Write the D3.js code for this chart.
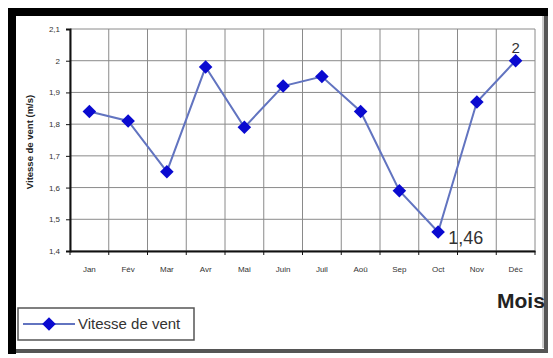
<!DOCTYPE html>
<html>
<head>
<meta charset="utf-8">
<script src="https://cdn.jsdelivr.net/npm/d3@7"></script>
<style>
  html, body { margin: 0; padding: 0; background: #fff; }
  svg { display: block; font-family: "Liberation Sans", Arial, sans-serif; }
</style>
</head>
<body>
<svg id="chart" width="553" height="358"></svg>
<script>
// Monthly mean wind speed (m/s)
const months = ["Jan", "Fév", "Mar", "Avr", "Mai", "Juin", "Juil", "Aoû", "Sep", "Oct", "Nov", "Déc"];
const windSpeed = [1.84, 1.81, 1.65, 1.98, 1.79, 1.92, 1.95, 1.84, 1.59, 1.46, 1.87, 2.0];
const yTicks = [1.4, 1.5, 1.6, 1.7, 1.8, 1.9, 2.0, 2.1];
const seriesName = "Vitesse de vent";
const yTitle = "Vitesse de vent (m/s)";
const xTitle = "Mois";
// Values that carry a printed label
const labelled = [{ month: "Oct", text: "1,46" }, { month: "Déc", text: "2" }];

const svg = d3.select("#chart");
const W = 553, H = 358;
const plot = { left: 70, right: 535, top: 29, bottom: 251 };

const fmt = v => d3.format(".1f")(v).replace(/\.0$/, "").replace(".", ",");

// Outer frame: heavy black top/left, lighter grey right/bottom
svg.append("rect").attr("x", 0).attr("y", 0).attr("width", W).attr("height", H).attr("fill", "#fff");
svg.append("rect").attr("x", 12).attr("y", 12).attr("width", 534).attr("height", 339)
  .attr("fill", "#fff").attr("stroke", "#555").attr("stroke-width", 4);
svg.append("line").attr("x1", 8).attr("x2", 548).attr("y1", 12).attr("y2", 12)
  .attr("stroke", "#000").attr("stroke-width", 8);
svg.append("line").attr("x1", 12).attr("x2", 12).attr("y1", 8).attr("y2", 354)
  .attr("stroke", "#000").attr("stroke-width", 8);
svg.append("line").attr("x1", 543).attr("x2", 543).attr("y1", 16).attr("y2", 348)
  .attr("stroke", "#999").attr("stroke-width", 1);

const x = d3.scaleBand().domain(months).range([plot.left, plot.right]);
const y = d3.scaleLinear().domain([1.4, 2.1]).range([plot.bottom, plot.top]);

// Grid
const grid = svg.append("g");
grid.selectAll(".hg").data(yTicks).join("line")
  .attr("x1", plot.left).attr("x2", plot.right)
  .attr("y1", d => y(d)).attr("y2", d => y(d))
  .attr("stroke", "#8a8a8a").attr("stroke-width", 1);
const bounds = months.map(m => x(m)).concat([plot.right]);
grid.selectAll(".vg").data(bounds).join("line")
  .attr("x1", d => d).attr("x2", d => d)
  .attr("y1", plot.top).attr("y2", plot.bottom)
  .attr("stroke", "#8a8a8a").attr("stroke-width", 1);

// Y axis
const yAxis = svg.append("g").attr("transform", `translate(${plot.left},0)`)
  .call(d3.axisLeft(y).tickValues(yTicks).tickSize(4).tickPadding(6).tickFormat(fmt));
yAxis.select(".domain").attr("stroke", "#111").attr("stroke-width", 2);
yAxis.selectAll(".tick line").attr("stroke", "#111");
yAxis.selectAll(".tick text").attr("font-size", 8).attr("fill", "#333")
  .attr("font-family", "Liberation Sans, Arial, sans-serif");

// X axis (ticks at category boundaries)
const xAxis = svg.append("g").attr("transform", `translate(0,${plot.bottom})`)
  .call(d3.axisBottom(x).tickSize(0).tickPadding(15));
xAxis.select(".domain").attr("stroke", "#111").attr("stroke-width", 2);
xAxis.selectAll(".tick text").attr("font-size", 8).attr("fill", "#333")
  .attr("font-family", "Liberation Sans, Arial, sans-serif");
svg.append("g").selectAll("line").data(bounds).join("line")
  .attr("x1", d => d).attr("x2", d => d)
  .attr("y1", plot.bottom).attr("y2", plot.bottom + 4)
  .attr("stroke", "#111");

// Axis titles
svg.append("text")
  .attr("transform", `translate(33,${(plot.top + plot.bottom) / 2 + 2}) rotate(-90)`)
  .attr("text-anchor", "middle").attr("font-size", 9.5).attr("font-weight", "bold").attr("fill", "#222")
  .text(yTitle);
svg.append("text").attr("x", 497).attr("y", 308)
  .attr("font-size", 21).attr("font-weight", "bold").attr("fill", "#222")
  .text(xTitle);

// Series line and square-diamond markers
const cx = m => x(m) + x.bandwidth() / 2;
const pts = months.map((m, i) => ({ m, v: windSpeed[i] }));
svg.append("path").datum(pts)
  .attr("fill", "none").attr("stroke", "#6274c0").attr("stroke-width", 2)
  .attr("d", d3.line().x(d => cx(d.m)).y(d => y(d.v)));
const diamond = d3.symbol().type(d3.symbolSquare).size(92);
svg.append("g").selectAll("path").data(pts).join("path")
  .attr("transform", d => `translate(${cx(d.m)},${y(d.v)}) rotate(45)`)
  .attr("d", diamond).attr("fill", "#0a0ad0");

// Value labels
const vOf = m => windSpeed[months.indexOf(m)];
svg.append("text").attr("x", cx("Oct") + 10).attr("y", y(vOf("Oct")) + 12)
  .attr("font-size", 18).attr("fill", "#333").text(labelled[0].text);
svg.append("text").attr("x", cx("Déc")).attr("y", y(vOf("Déc")) - 8)
  .attr("text-anchor", "middle").attr("font-size", 15).attr("fill", "#333").text(labelled[1].text);

// Legend
const lg = svg.append("g");
lg.append("rect").attr("x", 18).attr("y", 308).attr("width", 176).attr("height", 32)
  .attr("fill", "#fff").attr("stroke", "#555").attr("stroke-width", 1.5);
lg.append("line").attr("x1", 23).attr("x2", 75).attr("y1", 324).attr("y2", 324)
  .attr("stroke", "#6274c0").attr("stroke-width", 2);
lg.append("path").attr("transform", "translate(49,324) rotate(45)").attr("d", diamond).attr("fill", "#0a0ad0");
lg.append("text").attr("x", 78).attr("y", 329).attr("font-size", 15).attr("fill", "#333").text(seriesName);
</script>
</body>
</html>
